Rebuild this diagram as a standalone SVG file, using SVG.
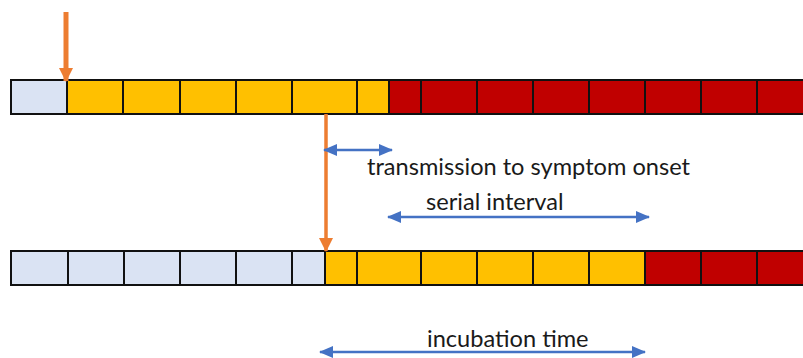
<svg xmlns="http://www.w3.org/2000/svg" width="803" height="358" viewBox="0 0 803 358">
<defs>
<style>
.c{stroke:#111;stroke-width:2}
.b{fill:#DAE3F3}
.y{fill:#FFC000}
.r{fill:#C00000}
.o{stroke:#ED7D31;fill:none}
.bl{stroke:#4472C4;stroke-width:2.5;fill:none}
.t{font-family:Lato,"Open Sans",sans-serif;font-size:23.6px;fill:#1a1a1a}
</style>
<marker id="ab" viewBox="0 0 14 12" refX="13" refY="6" markerWidth="14" markerHeight="12" markerUnits="userSpaceOnUse" orient="auto-start-reverse">
<path d="M0,0 L14,6 L0,12 z" fill="#4472C4"/>
</marker>
<marker id="ao" viewBox="0 0 14 14" refX="13" refY="7" markerWidth="14" markerHeight="14" markerUnits="userSpaceOnUse" orient="auto">
<path d="M0,0 L14,7 L0,14 z" fill="#ED7D31"/>
</marker>
</defs>
<rect width="803" height="358" fill="#fff"/>
<g id="bar-top">
<rect class="c b" x="11" y="80" width="56" height="34"/>
<rect class="c y" x="67" y="80" width="56" height="34"/>
<rect class="c y" x="123" y="80" width="57" height="34"/>
<rect class="c y" x="180" y="80" width="56" height="34"/>
<rect class="c y" x="236" y="80" width="56" height="34"/>
<rect class="c y" x="292" y="80" width="65" height="34"/>
<rect class="c y" x="357" y="80" width="32" height="34"/>
<rect class="c r" x="389" y="80" width="32" height="34"/>
<rect class="c r" x="421" y="80" width="56" height="34"/>
<rect class="c r" x="477" y="80" width="56" height="34"/>
<rect class="c r" x="533" y="80" width="56" height="34"/>
<rect class="c r" x="589" y="80" width="56" height="34"/>
<rect class="c r" x="645" y="80" width="56" height="34"/>
<rect class="c r" x="701" y="80" width="56" height="34"/>
<rect class="c r" x="757" y="80" width="56" height="34"/>
</g>
<g id="bar-bottom">
<rect class="c b" x="11" y="251" width="57" height="34"/>
<rect class="c b" x="68" y="251" width="56" height="34"/>
<rect class="c b" x="124" y="251" width="56" height="34"/>
<rect class="c b" x="180" y="251" width="56" height="34"/>
<rect class="c b" x="236" y="251" width="56" height="34"/>
<rect class="c b" x="292" y="251" width="33" height="34"/>
<rect class="c y" x="325" y="251" width="32" height="34"/>
<rect class="c y" x="357" y="251" width="64" height="34"/>
<rect class="c y" x="421" y="251" width="56" height="34"/>
<rect class="c y" x="477" y="251" width="56" height="34"/>
<rect class="c y" x="533" y="251" width="56" height="34"/>
<rect class="c y" x="589" y="251" width="56" height="34"/>
<rect class="c r" x="645" y="251" width="56" height="34"/>
<rect class="c r" x="701" y="251" width="56" height="34"/>
<rect class="c r" x="757" y="251" width="56" height="34"/>
</g>
<g id="connectors">
<line class="o" x1="66" y1="12" x2="66" y2="81" stroke-width="5" marker-end="url(#ao)"/>
<line class="o" x1="326" y1="114" x2="326" y2="251" stroke-width="3.5" marker-end="url(#ao)"/>
<line class="bl" x1="324" y1="150" x2="392" y2="150" marker-start="url(#ab)" marker-end="url(#ab)"/>
<line class="bl" x1="388" y1="217" x2="649" y2="217" marker-start="url(#ab)" marker-end="url(#ab)"/>
<line class="bl" x1="320" y1="352" x2="645" y2="352" marker-start="url(#ab)" marker-end="url(#ab)"/>
</g>
<g id="labels">
<text class="t" x="367" y="175">transmission to symptom onset</text>
<text class="t" x="426" y="210">serial interval</text>
<text class="t" x="427" y="347">incubation time</text>
</g>
</svg>
